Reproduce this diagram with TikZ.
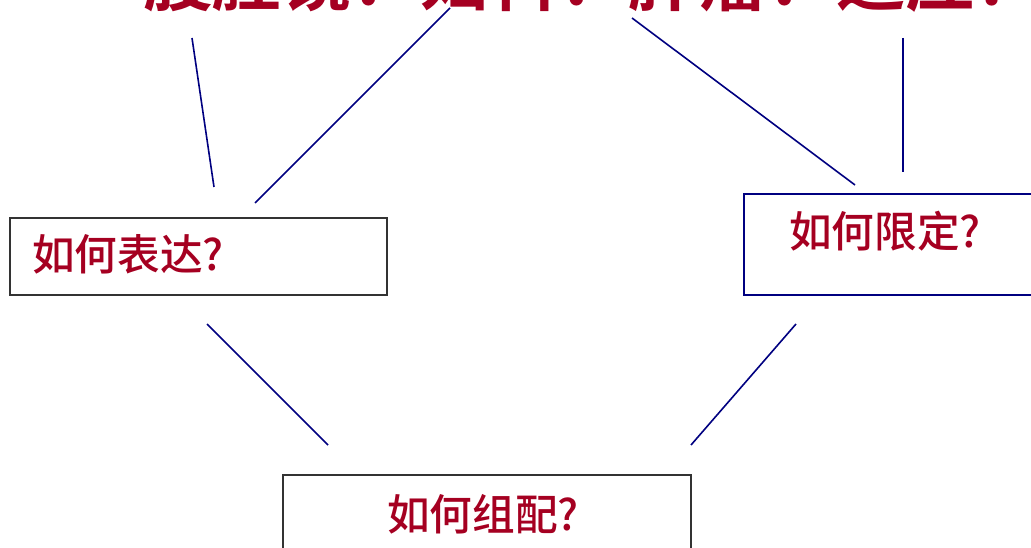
\documentclass[tikz,border=0pt]{standalone}
\usepackage{fontspec}
\usetikzlibrary{fit}
\newfontfamily\cjk{Noto Sans CJK SC Medium}
\newfontfamily\cjkbold{Noto Sans CJK SC Bold}
\definecolor{darkred}{HTML}{A50021}
\definecolor{navy}{HTML}{000080}
\tikzset{
  qbox/.style={draw=#1, line width=1pt, inner sep=0pt},
  qtext/.style={text=darkred, font=\cjk\fontsize{32}{36}\selectfont, anchor=base west, inner sep=0pt},
  link/.style={draw=navy, line width=1.2pt}
}
\begin{document}
\begin{tikzpicture}[x=0.75pt, y=-0.75pt]
  \useasboundingbox (0,0) rectangle (1031,548);
  \clip (0,0) rectangle (1031,548);
  % title, cut off at the top
  \node[text=darkred, font=\cjkbold\fontsize{52}{58}\selectfont, anchor=base west, inner sep=0pt]
    (topic) at (143,6) {腹腔镜：妇科：肿瘤：适应？};
  % boxes
  \node[qbox=black!80, fit={(10,218) (387,295)}] (express) {};
  \node[qbox=navy, fit={(744,194) (1040,295)}] (limit) {};
  \node[qbox=black!80, fit={(283,475) (691,560)}] (combine) {};
  \node[qtext] (expresstext) at (32,271) {如何表达?};
  \node[qtext] (limittext) at (789,248) {如何限定?};
  \node[qtext] (combinetext) at (387,530) {如何组配?};
  % connector ends
  \coordinate (t1) at (192,38);  \coordinate (e1) at (214,187);
  \coordinate (t2) at (450,8);   \coordinate (e2) at (255,203);
  \coordinate (t3) at (632,18);  \coordinate (l3) at (855,185);
  \coordinate (t4) at (903,38);  \coordinate (l4) at (903,172);
  \coordinate (e5) at (207,324); \coordinate (c5) at (328,445);
  \coordinate (l6) at (796,324); \coordinate (c6) at (691,445);
  \draw[link] (t1) -- (e1);
  \draw[link] (t2) -- (e2);
  \draw[link] (t3) -- (l3);
  \draw[link] (t4) -- (l4);
  \draw[link] (e5) -- (c5);
  \draw[link] (l6) -- (c6);
\end{tikzpicture}
\end{document}
